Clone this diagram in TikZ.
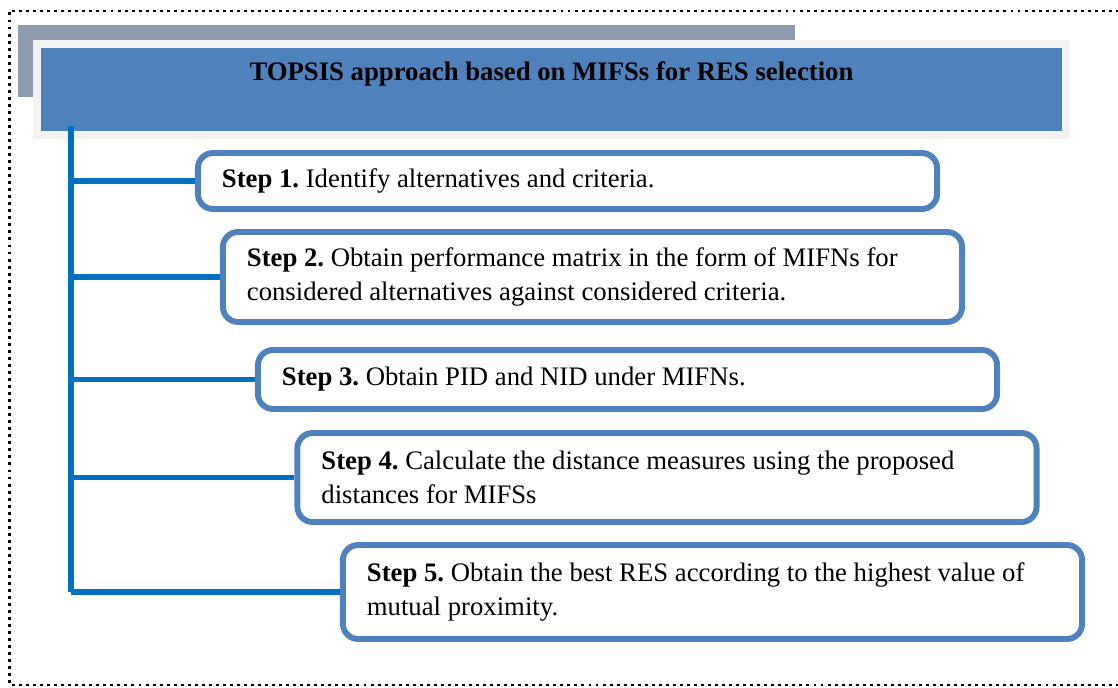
\documentclass[tikz,border=0pt]{standalone}
\usepackage{fontspec}
\setmainfont{Liberation Serif}
\usepackage{xcolor}
\frenchspacing

\begin{document}
\begin{tikzpicture}[x=0.025cm,y=-0.025cm,
  stepbox/.style={draw=boxblue,line width=4.2pt,rounded corners=0.38cm,fill=white,
    minimum width=18.475cm,text width=17.275cm,inner xsep=0.6cm,align=flush left,
    font=\fontsize{19}{24.2}\selectfont},
  link/.style={draw=lineblue,line width=4pt}]
\definecolor{boxblue}{HTML}{4F81BD}
\definecolor{lineblue}{HTML}{0070C0}
\definecolor{slate}{HTML}{8F9CAE}
\definecolor{pale}{HTML}{F2F2F2}
\useasboundingbox (0,0) rectangle (1118,688);
% dotted frame
\draw[line width=2.1pt,dash pattern=on 2.1pt off 2.9pt] (1140,11) -- (9.5,11) -- (9.5,685) -- (1140,685);
% heading
\fill[slate] (18,25) rectangle (795,97);
\fill[pale] (33,40) rectangle (1070,139);
\node[fill=boxblue,minimum width=25.525cm,minimum height=2.075cm,inner sep=0] (title) at (551.5,89.5) {};
\node[font=\fontsize{19}{23}\selectfont\bfseries] (titletext) at (551.5,74) {TOPSIS approach based on MIFSs for RES selection};
% steps
\foreach \n/\cx/\cy/\h/\txt in {
  1/567.5/181/1.4/{Identify alternatives and criteria.},
  2/592.5/277/2.25/{Obtain performance matrix in the form of MIFNs for\\considered alternatives against considered criteria.},
  3/627.5/379.5/1.475/{Obtain PID and NID under MIFNs.},
  4/667/477.5/2.225/{Calculate the distance measures using the proposed\\distances for MIFSs},
  5/712.5/592/2.35/{Obtain the best RES according to the highest value of\\mutual proximity.}}
  {\node[stepbox,minimum height=\h cm] (s\n) at (\cx,\cy) {\textbf{Step \n.} \txt};}
\coordinate (spinetop) at (71,126);
\draw[link,line width=4.4pt] (spinetop) -- (s5.west -| spinetop);
\foreach \n in {1,...,5}
  {\draw[link] (s\n.west -| spinetop) -- (s\n.west);}
\end{tikzpicture}
\end{document}
